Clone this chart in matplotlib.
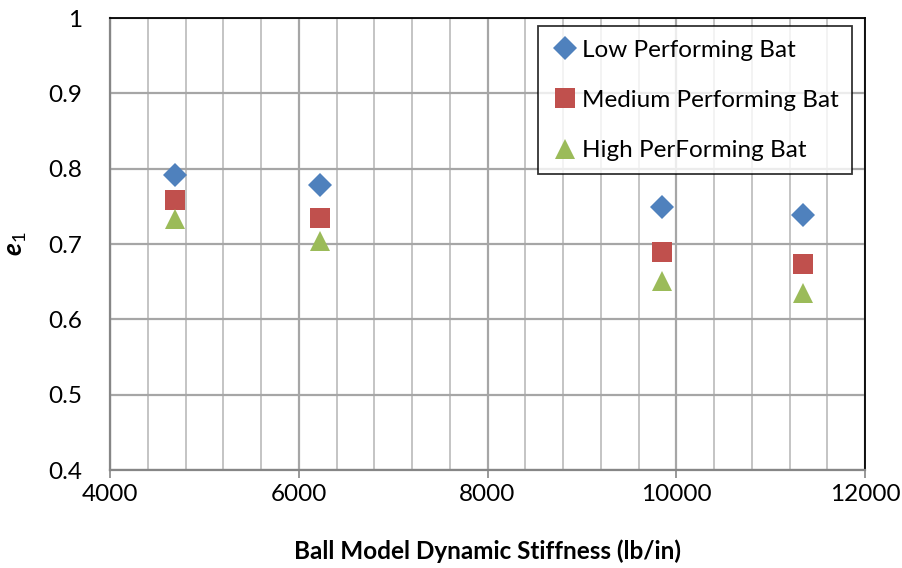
import matplotlib
matplotlib.use("Agg")
import matplotlib.pyplot as plt
from matplotlib.ticker import MultipleLocator

plt.rcParams['font.family'] = ['Lato', 'DejaVu Sans']
plt.rcParams['mathtext.fontset'] = 'custom'
plt.rcParams['mathtext.rm'] = 'Lato'
plt.rcParams['mathtext.bf'] = 'Lato:bold:italic'

stiffness = [4690, 6230, 9850, 11340]
low_bat = [0.792, 0.778, 0.749, 0.739]
medium_bat = [0.758, 0.735, 0.690, 0.673]
high_bat = [0.733, 0.704, 0.651, 0.635]

series = [
    ("Low Performing Bat", low_bat, "D", "#4F81BD", 12),
    ("Medium Performing Bat", medium_bat, "s", "#C0504D", 14),
    ("High PerForming Bat", high_bat, "^", "#9BBB59", 15),
]

FS = 17.5

fig = plt.figure(figsize=(9.02, 5.68), dpi=100)
ax = fig.add_axes([0.122, 0.1725, 0.837, 0.7955])

for label, vals, marker, color, ms in series:
    ax.plot(stiffness, vals, linestyle="none", marker=marker, color=color,
            markersize=ms, markeredgewidth=0, label=label, zorder=3)

ax.set_xlim(4000, 12000)
ax.set_ylim(0.4, 1.0)
ax.xaxis.set_major_locator(MultipleLocator(2000))
ax.xaxis.set_minor_locator(MultipleLocator(400))

ax.grid(True, which="major", axis="both", color="#A6A6A6", linewidth=1.6, zorder=0)
ax.grid(True, which="minor", axis="x", color="#BFBFBF", linewidth=1.3, zorder=0)
ax.set_axisbelow(True)

ax.set_yticks([0.4, 0.5, 0.6, 0.7, 0.8, 0.9, 1.0])
ax.set_yticklabels(["0.4", "0.5", "0.6", "0.7", "0.8", "0.9", "1"])

ax.tick_params(axis="x", which="major", direction="out", length=6, width=1.2,
               color="#868686", labelsize=FS, pad=4)
ax.tick_params(axis="x", which="minor", length=0)
ax.tick_params(axis="y", which="major", length=0, labelsize=FS, pad=20)

for side in ("top", "right"):
    ax.spines[side].set_color("black")
    ax.spines[side].set_linewidth(1.3)
for side in ("left", "bottom"):
    ax.spines[side].set_color("#868686")
    ax.spines[side].set_linewidth(1.6)

ax.set_xlabel("Ball Model Dynamic Stiffness (lb/in)", fontsize=FS,
              fontweight="bold", labelpad=25)
ax.set_ylabel(r"$\mathbf{e}_1$", fontsize=19, labelpad=14)

leg = ax.legend(loc="upper right", bbox_to_anchor=(0.983, 0.982), fontsize=FS,
                frameon=True, fancybox=False, edgecolor="black",
                labelspacing=1.2, handletextpad=0.15, borderpad=0.55,
                handlelength=1.1, borderaxespad=0)
leg.get_frame().set_linewidth(1.3)

fig.savefig("out.png", dpi=100)
